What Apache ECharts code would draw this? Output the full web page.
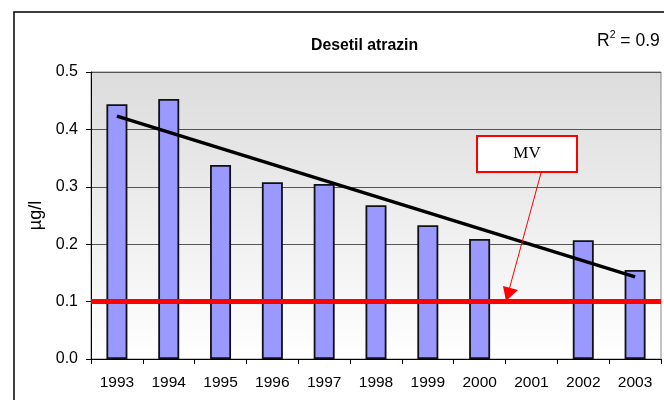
<!DOCTYPE html>
<html>
<head>
<meta charset="utf-8">
<script src="https://cdn.jsdelivr.net/npm/echarts@6/dist/echarts.min.js"></script>
<style>
  html, body { margin: 0; padding: 0; background: #fff; }
  #main { width: 664px; height: 400px; }
</style>
</head>
<body>
<div id="main"></div>
<script>
// data
var years = ["1993", "1994", "1995", "1996", "1997", "1998", "1999", "2000", "2001", "2002", "2003"];
var values = [0.444, 0.453, 0.338, 0.308, 0.305, 0.268, 0.233, 0.209, null, 0.207, 0.155];
var trendValues = [0.423, null, null, null, null, null, null, null, null, null, 0.143];
var limitValue = 0.1;
var yTicks = [0, 0.1, 0.2, 0.3, 0.4, 0.5];

var FONT = "Liberation Sans, Arial, sans-serif";

var chartDom = document.getElementById("main");
var myChart = echarts.init(chartDom);

var option = {
  animation: false,
  title: {
    text: "Desetil atrazin",
    left: 306,
    top: 33,
    textStyle: { fontFamily: FONT, fontSize: 15.8, fontWeight: "bold", color: "#000" },
  },
  grid: {
    left: 91,
    top: 72,
    right: 3,
    bottom: 41,
    show: true,
    borderColor: "#888",
    borderWidth: 1,
    backgroundColor: new echarts.graphic.LinearGradient(0, 0, 0, 1, [
      { offset: 0, color: "#dcdcdc" },
      { offset: 1, color: "#ffffff" },
    ]),
  },
  xAxis: {
    type: "category",
    data: years,
    axisLine: { lineStyle: { color: "#000", width: 1 } },
    axisTick: { show: true, alignWithLabel: false, length: 5, lineStyle: { color: "#000" } },
    axisLabel: { fontFamily: FONT, fontSize: 15.5, color: "#000", margin: 16 },
  },
  yAxis: {
    type: "value",
    min: yTicks[0],
    max: yTicks[yTicks.length - 1],
    interval: 0.1,
    name: "µg/l",
    nameLocation: "middle",
    nameRotate: 90,
    nameGap: 33,
    nameTextStyle: { fontFamily: FONT, fontSize: 18, color: "#000" },
    axisLine: { show: true, lineStyle: { color: "#000", width: 1 } },
    axisTick: { show: true, length: 5, lineStyle: { color: "#000" } },
    axisLabel: {
      fontFamily: FONT,
      fontSize: 16,
      color: "#000",
      margin: 13,
      formatter: function (v) { return v.toFixed(1); },
    },
    splitLine: { show: true, lineStyle: { color: "#555", width: 1 } },
  },
  series: [
    {
      name: "Desetil atrazin",
      type: "bar",
      data: values,
      barWidth: 21,
      itemStyle: { color: "#9999ff", borderColor: "#111", borderWidth: 1.8 },
      markLine: {
        silent: true,
        symbol: "none",
        label: { show: false },
        lineStyle: { color: "#ff0000", width: 5, type: "solid" },
        data: [{ yAxis: limitValue }],
      },
      z: 2,
    },
    {
      name: "trend",
      type: "line",
      data: trendValues,
      connectNulls: true,
      showSymbol: false,
      symbol: "none",
      lineStyle: { color: "#000", width: 3.5 },
      z: 4,
    },
  ],
  graphic: [
    // outer chart frame
    {
      type: "rect",
      shape: { x: 14, y: 12, width: 700, height: 450 },
      style: { fill: "none", stroke: "#000", lineWidth: 1.5 },
      z: 0,
    },
    // R squared
    {
      type: "text",
      left: 597,
      top: 30,
      style: {
        text: "{r|R}{s|2}{r| = 0.9}",
        rich: {
          r: { fontFamily: FONT, fontSize: 17.5, color: "#000", verticalAlign: "bottom" },
          s: { fontFamily: FONT, fontSize: 10.5, color: "#000", verticalAlign: "top", padding: [0, 0, 9, 0] },
        },
      },
    },
    // MV callout box
    {
      type: "rect",
      shape: { x: 477, y: 136, width: 100, height: 36 },
      style: { fill: "#fff", stroke: "#ff0000", lineWidth: 2 },
      z: 10,
    },
    {
      type: "text",
      x: 527,
      y: 154,
      style: {
        text: "MV",
        fontFamily: "Liberation Serif, Times New Roman, serif",
        fontSize: 17,
        fill: "#000",
        align: "center",
        verticalAlign: "middle",
      },
      z: 11,
    },
    {
      type: "line",
      shape: { x1: 541, y1: 173, x2: 509, y2: 290 },
      style: { stroke: "#ff0000", lineWidth: 1 },
      z: 10,
    },
    {
      type: "polygon",
      shape: { points: [[506, 301], [503, 286], [518, 290]] },
      style: { fill: "#ff0000" },
      z: 10,
    },
  ],
};

option && myChart.setOption(option);
</script>
</body>
</html>
